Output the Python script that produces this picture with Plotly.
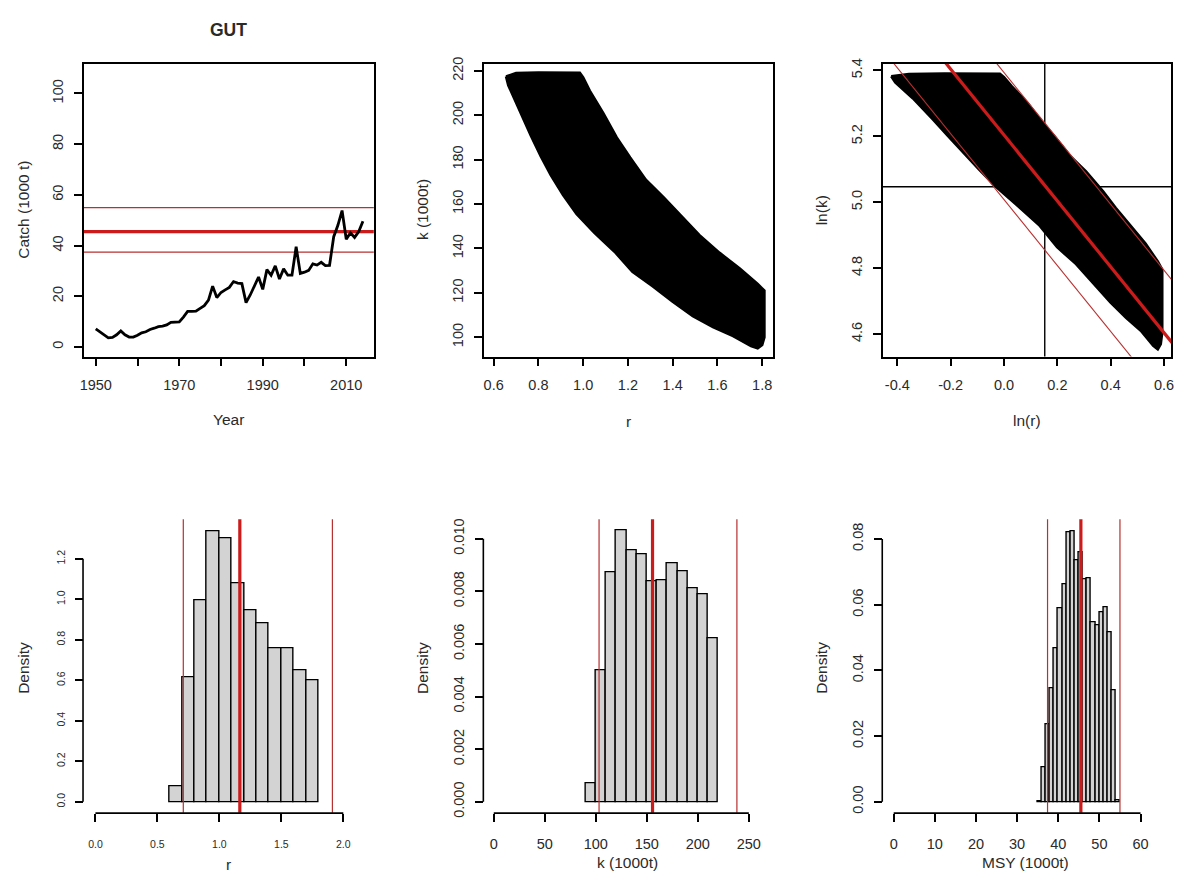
import math
import plotly.graph_objects as go

# ---------------------------------------------------------------- data
years = list(range(1950, 2015))
catch = [7.1, 6.0, 5.0, 3.6, 3.8, 4.8, 6.3, 4.8, 3.9, 3.9,
         4.6, 5.6, 6.0, 6.9, 7.4, 8.0, 8.2, 8.7, 9.7, 9.7,
         9.9, 11.8, 14.0, 14.0, 14.1, 15.2, 16.3, 18.5, 24.0, 19.5,
         21.5, 22.5, 23.5, 25.8, 25.2, 25.0, 17.5, 20.5, 24.0, 27.6,
         22.7, 30.5, 28.3, 32.0, 26.8, 30.8, 28.3, 28.3, 39.5, 29.0,
         29.5, 30.2, 32.8, 32.3, 33.4, 32.1, 32.2, 43.5, 48.0, 53.8,
         42.5, 45.0, 43.2, 45.5, 49.6]

# outline of the viable r-k cloud (clockwise from the top-left corner)
cloud_r = [0.655, 0.70, 0.80, 0.90, 0.985, 1.00, 1.03, 1.09, 1.15, 1.21,
           1.28, 1.36, 1.45, 1.52, 1.61, 1.70, 1.78, 1.81, 1.81, 1.80,
           1.78, 1.75, 1.67, 1.58, 1.49, 1.40, 1.31, 1.22, 1.14, 1.05,
           0.97, 0.91, 0.855, 0.81, 0.765, 0.71, 0.665, 0.655]
cloud_k = [217.5, 219.0, 219.3, 219.3, 219.2, 217.0, 211.0, 201.0, 190.0, 181.0,
           171.0, 163.0, 153.5, 146.0, 138.0, 131.0, 124.0, 121.0, 100.0, 96.5,
           95.0, 96.0, 100.5, 104.5, 109.5, 116.0, 123.0, 129.5, 138.5, 147.0,
           155.5, 164.0, 173.0, 181.5, 191.0, 203.5, 213.5, 217.5]

# summary statistics (lower bound, mean, upper bound)
r_stats = [0.709, 1.165, 1.912]
k_stats = [103.2, 155.6, 238.3]
msy_stats = [37.4, 45.5, 55.0]

# histograms (density per bin)
r_edges = [0.6, 0.7, 0.8, 0.9, 1.0, 1.1, 1.2, 1.3, 1.4, 1.5, 1.6, 1.7, 1.8]
r_dens = [0.076, 0.615, 0.994, 1.338, 1.302, 1.077, 0.945, 0.883, 0.758, 0.758, 0.650, 0.601]

k_edges = [90, 100, 110, 120, 130, 140, 150, 160, 170, 180, 190, 200, 210, 220]
k_dens = [0.00071, 0.0050, 0.00871, 0.01031, 0.00956, 0.0094, 0.0084, 0.00844,
          0.00908, 0.00876, 0.00813, 0.00788, 0.00621]

msy_edges = list(range(35, 56))
msy_dens = [0.0003, 0.0105, 0.0235, 0.0345, 0.0468, 0.0588, 0.0663, 0.0821, 0.0825, 0.0736,
            0.0761, 0.0676, 0.0680, 0.0546, 0.0536, 0.0578, 0.0591, 0.0516, 0.0341, 0.0005]

# tick labels
year_ticks = [1950, 1960, 1970, 1980, 1990, 2000, 2010]
year_labels = ["1950", "", "1970", "", "1990", "", "2010"]
catch_ticks = [0, 20, 40, 60, 80, 100]
r_ticks = [0.6, 0.8, 1.0, 1.2, 1.4, 1.6, 1.8]
k_ticks = [100, 120, 140, 160, 180, 200, 220]
lnr_ticks = [-0.4, -0.2, 0.0, 0.2, 0.4, 0.6]
lnk_ticks = [4.6, 4.8, 5.0, 5.2, 5.4]
rh_xticks = [0.0, 0.5, 1.0, 1.5, 2.0]
rh_yticks = [0.0, 0.2, 0.4, 0.6, 0.8, 1.0, 1.2]
kh_xticks = [0, 50, 100, 150, 200, 250]
kh_yticks = [0.000, 0.002, 0.004, 0.006, 0.008, 0.010]
mh_xticks = [0, 10, 20, 30, 40, 50, 60]
mh_yticks = [0.00, 0.02, 0.04, 0.06, 0.08]

# ---------------------------------------------------------------- style
W, H = 1179, 889
FONT = "Liberation Sans, Arial, sans-serif"
TXT = "#2a2a2a"
RED = "#cc1b1b"
RED_THIN = "#b83030"
GREY = "#d3d3d3"
AXW = 1.6


def fx(px):
    return px / W


def fy(py):
    return 1 - py / H


COLS = [(80, 372), (482.7, 773.3), (884, 1174.3)]
TOP = (57.3, 354.3)
BOT = (519.3, 816.7)

fig = go.Figure()


def set_axes(i, col, row, xr, yr, xt, xl, yt, yl, boxed, tick_size=14.5,
             xstand=6, ystand=5):
    xname = "xaxis" if i == 1 else f"xaxis{i}"
    yname = "yaxis" if i == 1 else f"yaxis{i}"
    anchor_x = "x" if i == 1 else f"x{i}"
    anchor_y = "y" if i == 1 else f"y{i}"
    common = dict(showgrid=False, zeroline=False, ticks="outside", ticklen=8,
                  tickwidth=AXW, tickcolor="black",
                  tickfont=dict(family=FONT, size=tick_size, color=TXT),
                  showline=boxed, mirror=boxed, linecolor="black", linewidth=AXW)
    fig.update_layout(**{
        xname: dict(domain=[fx(col[0]), fx(col[1])], range=xr, anchor=anchor_y,
                    tickmode="array", tickvals=xt, ticktext=xl,
                    ticklabelstandoff=xstand, **common),
        yname: dict(domain=[fy(row[1]), fy(row[0])], range=yr, anchor=anchor_x,
                    tickmode="array", tickvals=yt, ticktext=yl, tickangle=-90,
                    ticklabelstandoff=ystand, **common),
    })


# ---- panel 1: catch time series
for v, w, c in [(msy_stats[0], 1.2, RED_THIN), (msy_stats[2], 1.2, RED_THIN),
                (msy_stats[1], 3.2, RED)]:
    fig.add_trace(go.Scatter(x=[1940, 2025], y=[v, v], mode="lines",
                             line=dict(color=c, width=w), xaxis="x", yaxis="y",
                             showlegend=False, hoverinfo="skip"))
fig.add_trace(go.Scatter(x=years, y=catch, mode="lines",
                         line=dict(color="black", width=2.8), xaxis="x", yaxis="y",
                         showlegend=False))
set_axes(1, COLS[0], TOP, [1947.07, 2016.6], [-3.77, 111.8],
         year_ticks, year_labels, catch_ticks, [str(t) for t in catch_ticks], True)

# ---- panel 2: r vs k cloud
fig.add_trace(go.Scatter(x=cloud_r, y=cloud_k, mode="lines", fill="toself",
                         fillcolor="black", line=dict(color="black", width=2.5),
                         xaxis="x2", yaxis="y2", showlegend=False))
set_axes(2, COLS[1], TOP, [0.556, 1.847], [91.3, 223.3],
         r_ticks, [f"{t:.1f}" for t in r_ticks], k_ticks, [str(t) for t in k_ticks], True)

# ---- panel 3: ln(r) vs ln(k)
ln_r = [math.log(v) for v in cloud_r]
ln_k = [math.log(v) for v in cloud_k]
fig.add_trace(go.Scatter(x=ln_r, y=ln_k, mode="lines", fill="toself",
                         fillcolor="black", line=dict(color="black", width=2.5),
                         xaxis="x3", yaxis="y3", showlegend=False))
lr_m, lk_m = math.log(r_stats[1]), math.log(k_stats[1])
fig.add_trace(go.Scatter(x=[lr_m, lr_m], y=[4.4, 5.6], mode="lines",
                         line=dict(color="black", width=1.4), xaxis="x3", yaxis="y3",
                         showlegend=False, hoverinfo="skip"))
fig.add_trace(go.Scatter(x=[-0.6, 0.8], y=[lk_m, lk_m], mode="lines",
                         line=dict(color="black", width=1.4), xaxis="x3", yaxis="y3",
                         showlegend=False, hoverinfo="skip"))
xs = [-0.6, 0.8]
for v, w, c in [(msy_stats[0], 1.1, RED_THIN), (msy_stats[2], 1.1, RED_THIN),
                (msy_stats[1], 3.2, RED)]:
    b = math.log(4 * v)
    fig.add_trace(go.Scatter(x=xs, y=[b - x for x in xs], mode="lines",
                             line=dict(color=c, width=w), xaxis="x3", yaxis="y3",
                             showlegend=False, hoverinfo="skip"))
set_axes(3, COLS[2], TOP, [-0.4547, 0.6273], [4.532, 5.421],
         lnr_ticks, [f"{t:.1f}" for t in lnr_ticks], lnk_ticks, [f"{t:.1f}" for t in lnk_ticks], True)


# ---- histograms
def to_px(v, rng, lo, hi):
    return lo + (v - rng[0]) / (rng[1] - rng[0]) * (hi - lo)


def hist_panel(i, col, edges, dens, stats, xr, yr, xt, xl, yt, yl, tick_size=14.5,
               xstand=10, ystand=5):
    xa, ya = f"x{i}", f"y{i}"
    set_axes(i, col, BOT, xr, yr, xt, xl, yt, yl, False, tick_size, xstand, ystand)
    width = edges[1] - edges[0]
    fig.add_trace(go.Bar(x=edges[:-1], y=dens, width=width, offset=0,
                         marker=dict(color=GREY, line=dict(color="black", width=1.4)),
                         xaxis=xa, yaxis=ya, showlegend=False))
    for j, v in enumerate(stats):
        fig.add_shape(type="line", xref=xa, yref=f"{ya} domain", x0=v, x1=v, y0=0, y1=1,
                      line=dict(color=RED if j == 1 else RED_THIN, width=3.2 if j == 1 else 1.2))
    # axis lines spanning only the tick range (page coordinates, not clipped)
    x0p = to_px(xt[0], xr, col[0], col[1])
    x1p = to_px(xt[-1], xr, col[0], col[1])
    y0p = to_px(yt[0], yr, BOT[1], BOT[0])
    y1p = to_px(yt[-1], yr, BOT[1], BOT[0])
    fig.add_shape(type="line", xref="paper", yref="paper", layer="above",
                  x0=fx(x0p), x1=fx(x1p), y0=fy(BOT[1] + 0.5), y1=fy(BOT[1] + 0.5),
                  line=dict(color="black", width=AXW))
    fig.add_shape(type="line", xref="paper", yref="paper", layer="above",
                  x0=fx(col[0] - 0.5), x1=fx(col[0] - 0.5), y0=fy(y0p), y1=fy(y1p),
                  line=dict(color="black", width=AXW))


hist_panel(4, COLS[0], r_edges, r_dens, r_stats, [-0.096, 2.246], [-0.0536, 1.395],
           rh_xticks, [f"{t:.1f}" for t in rh_xticks], rh_yticks, [f"{t:.1f}" for t in rh_yticks],
           tick_size=10.5, xstand=14, ystand=5)
hist_panel(5, COLS[1], k_edges, k_dens, k_stats, [-9.74, 273.4], [-0.000412, 0.01074],
           kh_xticks, [str(t) for t in kh_xticks], kh_yticks, [f"{t:.3f}" for t in kh_yticks])
hist_panel(6, COLS[2], msy_edges, msy_dens, msy_stats, [-2.66, 67.49], [-0.0033, 0.086],
           mh_xticks, [str(t) for t in mh_xticks], mh_yticks, [f"{t:.2f}" for t in mh_yticks])

# ---------------------------------------------------------------- labels
def label(text, px, py, angle=0, size=15.5, bold=False):
    fig.add_annotation(text=f"<b>{text}</b>" if bold else text, x=fx(px), y=fy(py),
                       xref="paper", yref="paper", showarrow=False, textangle=angle,
                       xanchor="center", yanchor="middle",
                       font=dict(family=FONT, size=size, color=TXT))


label("GUT", 226, 23, size=17.5, bold=True)
label("Catch (1000 t)", 20, 205.7, -90)
label("Year", 226, 418)
label("k (1000t)", 421.7, 205.7, -90)
label("r", 628, 420)
label("ln(k)", 823.3, 205.7, -90)
label("ln(r)", 1029, 419)
for px in (20, 421.5, 822.7):
    label("Density", px, 670, -90)
label("r", 226, 869)
label("k (1000t)", 627, 867)
label("MSY (1000t)", 1028, 867)

fig.update_layout(width=W, height=H, margin=dict(l=0, r=0, t=0, b=0),
                  paper_bgcolor="white", plot_bgcolor="white", bargap=0,
                  showlegend=False)

fig.write_html("out.html")
